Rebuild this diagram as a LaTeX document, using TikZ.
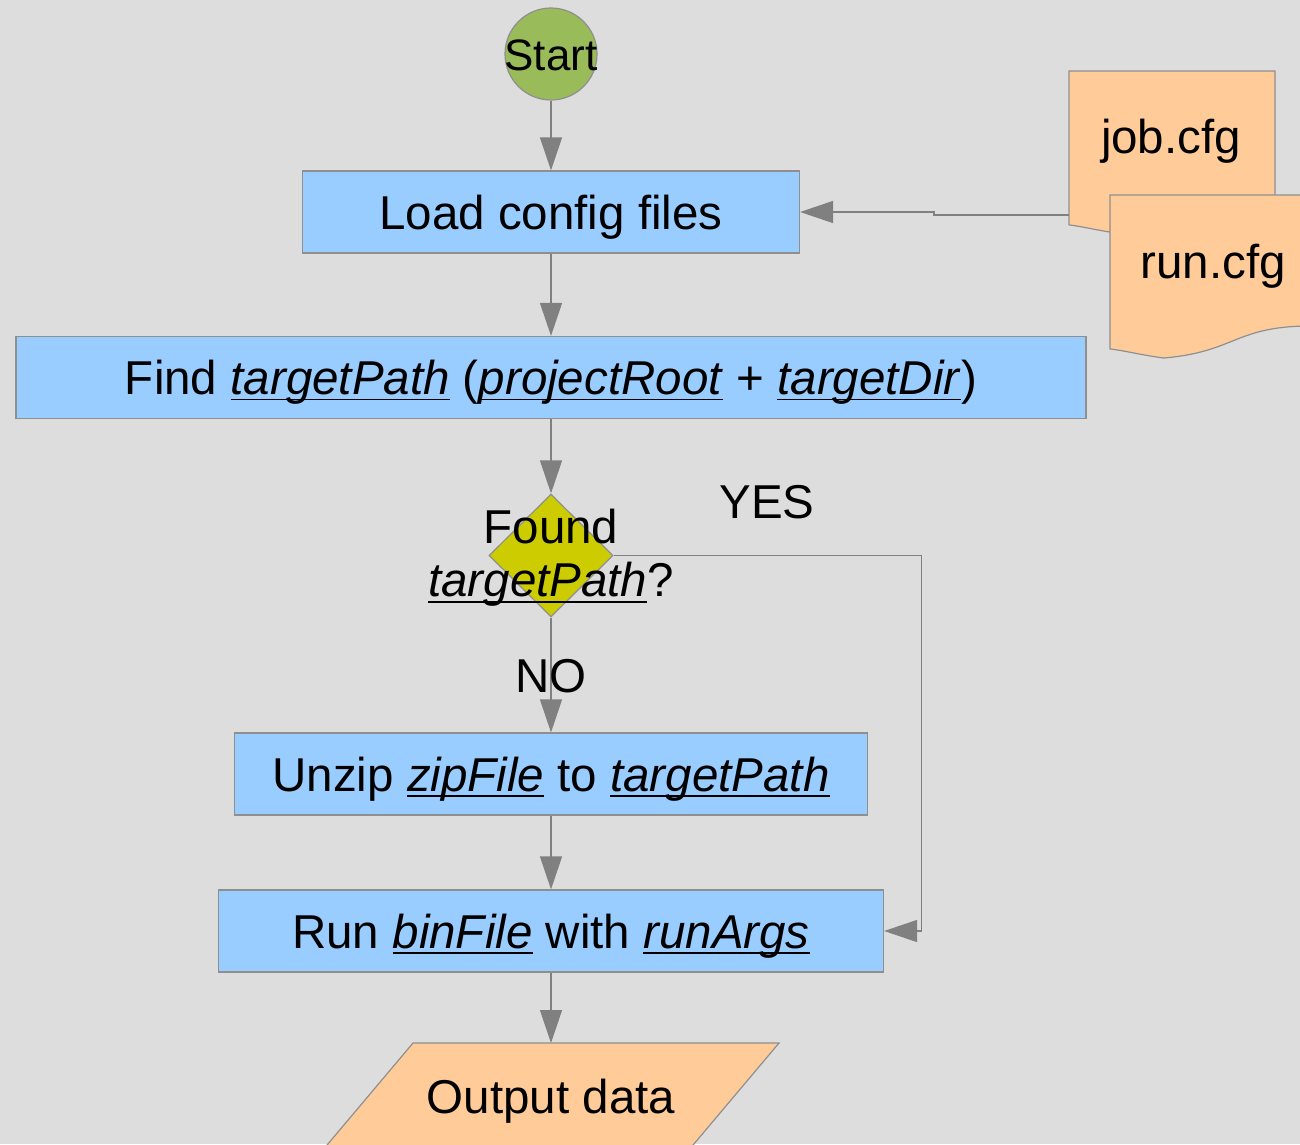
\documentclass[tikz,border=0pt]{standalone}
\usepackage{fontspec}
\setmainfont{Liberation Sans}
\usetikzlibrary{arrows.meta,shapes.geometric}
\newsavebox{\uvarbox}
\newcommand{\uvar}[1]{\sbox{\uvarbox}{\textit{#1}}\rlap{\rule[-0.125em]{\wd\uvarbox}{0.04em}}\usebox{\uvarbox}}
\newcommand{\bigfnt}{\fontsize{47.5}{53}\selectfont}

\begin{document}
\begin{tikzpicture}[x=1pt,y=-1pt,
  txt/.style={font=\bigfnt,inner sep=0pt,text height=43pt,text depth=9pt},
  proc/.style={txt,draw=brdgray,fill=boxblue,line width=1.2pt,minimum height=82pt},
  conn/.style={draw=arrgray,line width=1.3pt,-{Triangle[length=33pt,width=22pt]}},
  shp/.style={draw=brdgray,line width=1.2pt}]
\definecolor{bggray}{rgb}{0.867,0.867,0.867}
\definecolor{boxblue}{rgb}{0.6,0.8,1}
\definecolor{startgreen}{rgb}{0.6,0.733,0.349}
\definecolor{decyellow}{rgb}{0.8,0.8,0}
\definecolor{docorange}{rgb}{1,0.8,0.6}
\definecolor{brdgray}{rgb}{0.56,0.56,0.56}
\definecolor{arrgray}{rgb}{0.5,0.5,0.5}
\useasboundingbox (0,0) rectangle (1300,1144);
\clip (0,0) rectangle (1300,1144);
\fill[bggray] (0,0) rectangle (1300,1144);
% config files
\fill[docorange,shp] (1069,71) -- (1275,71) -- (1275,202) .. controls (1193.4,200.9) and (1196.3,227.8) .. (1122.6,234) .. controls (1096.2,230.3) and (1086.7,227.2) .. (1069,224.9) -- cycle;
\fill[docorange,shp] (1110,195) -- (1316,195) -- (1316,326) .. controls (1234.4,324.9) and (1237.3,351.8) .. (1163.6,358) .. controls (1137.2,354.3) and (1127.7,351.2) .. (1110,348.9) -- cycle;
\node[txt] (job) at (1171,136) {job.cfg};
\node[txt] (run) at (1213,261) {run.cfg};
\coordinate (jobin) at (1069,215);
% flow
\node[circle,draw=brdgray,fill=startgreen,line width=1.2pt,minimum size=92pt,inner sep=0pt] (start) at (551,54) {};
\node[font=\fontsize{44}{50}\selectfont,inner sep=0pt,text height=40pt,text depth=8pt] (starttxt) at (start) {Start};
\node[proc,minimum width=497pt] (load) at (551,212) {Load config files};
\node[proc,minimum width=1070pt] (find) at (551,377.5) {Find \uvar{targetPath} (\uvar{projectRoot} + \uvar{targetDir})};
\node[diamond,draw=brdgray,fill=decyellow,line width=1.2pt,minimum width=124pt,minimum height=123pt,inner sep=0pt] (dec) at (551,555.5) {};
\node[proc,minimum width=633pt] (unzip) at (551,774) {Unzip \uvar{zipFile} to \uvar{targetPath}};
\node[proc,minimum width=665pt] (runbin) at (551,931) {Run \uvar{binFile} with \uvar{runArgs}};
\fill[docorange,shp] (413,1043) -- (779,1043) -- (688,1151) -- (322,1151) -- cycle;
\node[txt] (out) at (551,1096) {Output data};
\coordinate (outtop) at (551,1043);
% connectors
\draw[conn] (start) -- (load);
\draw[conn] (jobin) -- ++(-135,0) |- (load.east);
\draw[conn] (load) -- (find);
\draw[conn] (find) -- (dec);
\draw[conn] (dec) -- (unzip);
\draw[conn] (dec.east) -- ++(308,0) |- (runbin.east);
\draw[conn] (unzip) -- (runbin);
\draw[conn] (runbin) -- (outtop);
\node[txt] (yes) at (767,501) {YES};
\node[txt] (no) at (551,675) {NO};
\node[font=\bigfnt,align=center,inner sep=0pt] (dectxt) at (551,558) {Found\\\uvar{targetPath}?};
\end{tikzpicture}
\end{document}
